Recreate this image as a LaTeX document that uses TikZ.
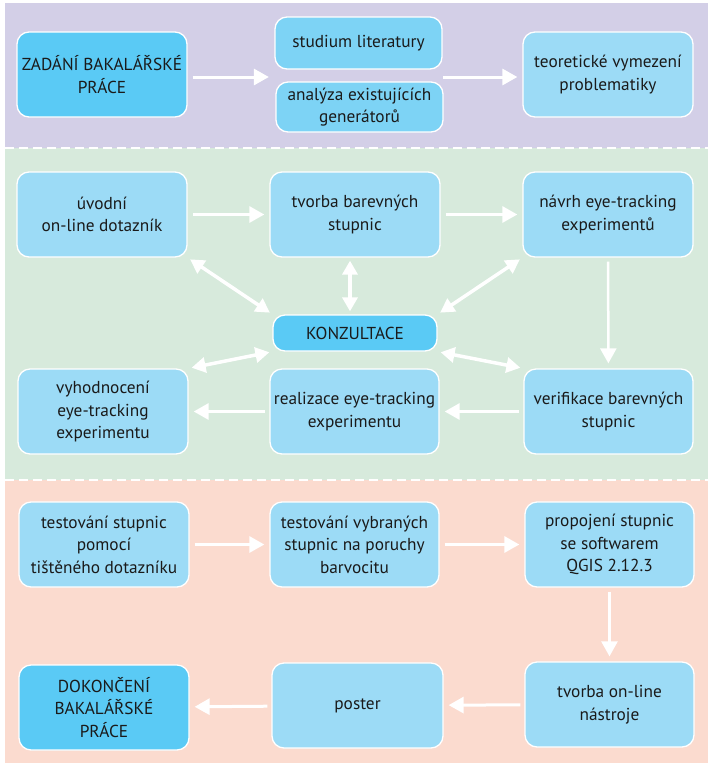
\documentclass[tikz,border=0pt]{standalone}
\usepackage{fontspec}
\setmainfont{PT Sans}
\usetikzlibrary{arrows.meta,calc}
\definecolor{panelA}{HTML}{D3CFE7}
\definecolor{panelB}{HTML}{D7EADC}
\definecolor{panelC}{HTML}{FBDBCF}
\definecolor{boxlight}{HTML}{9CDBF6}
\definecolor{boxdark}{HTML}{5ACAF5}
\definecolor{boxmid}{HTML}{7DD3F5}
\definecolor{txt}{HTML}{1A1A1A}
\begin{document}
\begin{tikzpicture}[x=1pt,y=-1pt,
  box/.style={draw=white, line width=1.3pt, fill=boxlight, rounded corners=12pt,
    minimum width=170pt, minimum height=85pt, align=center, text=txt,
    font=\fontsize{17.3}{22.5}\selectfont, inner sep=1pt},
  smallbox/.style={box, fill=boxmid, minimum width=167pt, minimum height=51pt},
  darkbox/.style={box, fill=boxdark},
  arr/.style={draw=white, line width=3pt, -{Triangle[length=15pt,width=16pt]}},
  darr/.style={draw=white, line width=3.5pt, {Triangle[length=14pt,width=15pt]}-{Triangle[length=14pt,width=15pt]}},
  sep/.style={draw=white, line width=2.4pt, dash pattern=on 9pt off 5pt}]
\useasboundingbox (0,0) rectangle (714,769);
\fill[white] (0,0) rectangle (714,769);
% panels
\fill[panelA] (5,3) rectangle (708,148);
\fill[panelB] (5,148) rectangle (708,480);
\fill[panelC] (5,480) rectangle (708,763);
\draw[sep] (5,148) -- (709,148);
\draw[sep] (5,480) -- (709,480);
% row 1
\node[darkbox] (zad) at (102,74.5) {ZADÁNÍ BAKALÁŘSKÉ\\PRÁCE};
\node[smallbox, minimum height=52pt] (stud) at (358.5,43) {studium literatury};
\node[smallbox, minimum height=50pt] (anal) at (359.5,107) {analýza existujících\\generátorů};
\node[box] (teor) at (608,74.5) {teoretické vymezení\\problematiky};
\coordinate (litin) at ($(stud.south west)!0.5!(anal.north west)+(0,1.5)$);
\coordinate (litout) at ($(stud.south east)!0.5!(anal.north east)+(0,1.5)$);
\draw[arr, shorten <=5pt, shorten >=6pt] (zad.east |- litin) -- (litin);
\draw[arr, shorten >=5pt] (litout) -- (teor.west |- litout);
% row 2
\node[box] (uvod) at (102,214.5) {úvodní\\on-line dotazník};
\node[box] (tvb) at (355,214.5) {tvorba barevných\\stupnic};
\node[box] (navrh) at (608,214.5) {návrh eye-tracking\\experimentů};
\node[darkbox, minimum width=164pt, minimum height=36pt] (konz) at (355,333) {KONZULTACE};
\node[box] (vyh) at (103,411.5) {vyhodnocení\\eye-tracking\\experimentu};
\node[box, minimum width=169pt] (real) at (354.5,411.5) {realizace eye-tracking\\experimentu};
\node[box, minimum width=169pt] (verif) at (608.5,411.5) {verifikace barevných\\stupnic};
\draw[arr, shorten <=5pt, shorten >=5pt] (uvod) -- (tvb);
\draw[arr, shorten <=5pt, shorten >=5pt] (tvb) -- (navrh);
\draw[arr, line width=2.5pt, shorten <=4pt, shorten >=5pt] (navrh) -- (verif);
\draw[arr, shorten <=4pt, shorten >=5pt] (verif) -- (real);
\draw[arr, shorten <=4pt, shorten >=5pt] (real) -- (vyh);
\draw[darr, shorten <=3pt, shorten >=3pt] (uvod.south east) -- (konz.north west);
\draw[darr, shorten <=3pt, shorten >=3pt] ([xshift=-5pt]tvb.south) -- ([xshift=-5pt]konz.north);
\draw[darr, shorten <=3pt, shorten >=3pt] (navrh.south west) -- (konz.north east);
\draw[darr, shorten <=3pt, shorten >=3pt] (konz.south west) -- (vyh.north east);
\draw[darr, shorten <=3pt, shorten >=3pt] (konz.south east) -- (verif.north west);
% row 3
\node[box] (test1) at (104,544.5) {testování stupnic\\pomocí\\tištěného dotazníku};
\node[box, minimum width=169pt] (test2) at (354.5,544.5) {testování vybraných\\stupnic na poruchy\\barvocitu};
\node[box, minimum width=169pt] (prop) at (609.5,544.5) {propojení stupnic\\se softwarem\\QGIS 2.12.3};
\node[darkbox] (dok) at (104,707.5) {DOKONČENÍ\\BAKALÁŘSKÉ\\PRÁCE};
\node[box, minimum width=171pt] (poster) at (357.5,705.5) {poster};
\node[box, minimum width=169pt] (online) at (609.5,704.5) {tvorba on-line\\nástroje};
\draw[arr, shorten <=5pt, shorten >=5pt] (test1) -- (test2);
\draw[arr, shorten <=5pt, shorten >=5pt] (test2) -- (prop);
\draw[arr, line width=2.5pt, shorten <=4pt, shorten >=5pt] (prop) -- (online);
\draw[arr, shorten <=4pt, shorten >=5pt] (online) -- (poster);
\draw[arr, shorten <=4pt, shorten >=5pt] (poster) -- (dok);
\end{tikzpicture}
\end{document}
